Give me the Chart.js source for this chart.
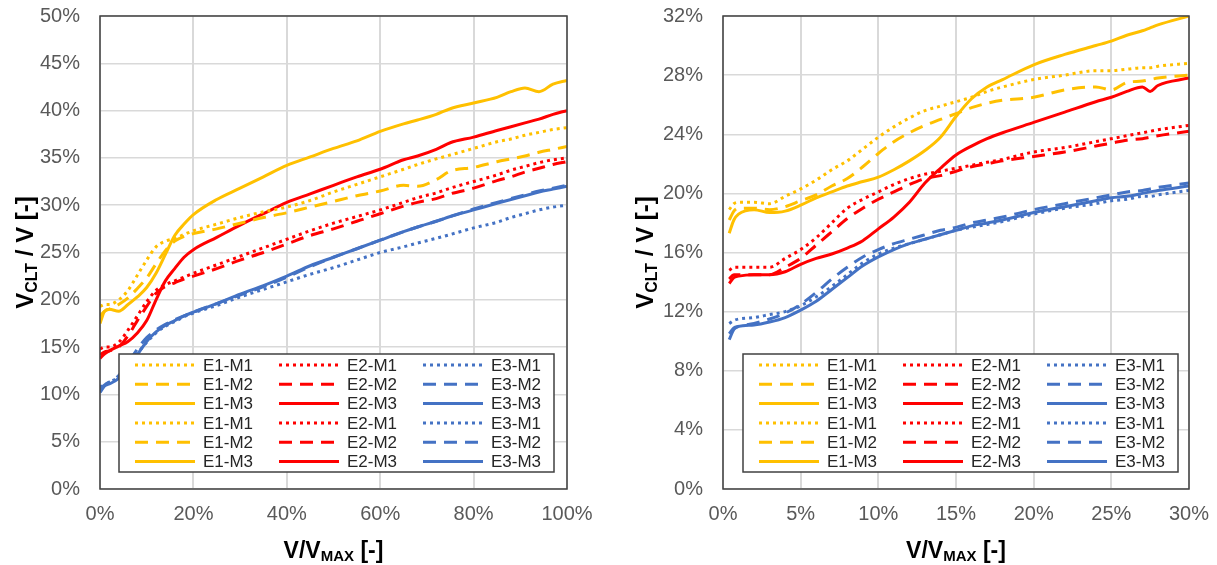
<!DOCTYPE html>
<html>
<head>
<meta charset="utf-8">
<script src="https://cdn.jsdelivr.net/npm/chart.js@4.4.0/dist/chart.umd.min.js"></script>
<style>
    html, body { margin: 0; padding: 0; background: #fff; }
    #wrap { position: relative; width: 1217px; height: 565px; overflow: hidden; }
    .panel { position: absolute; top: 0; }
    #left { left: 0; }
    #right { left: 608px; }
</style>
</head>
<body>
<div id="wrap">
    <div class="panel" id="left"><canvas id="chartLeft" width="608" height="565"></canvas></div>
    <div class="panel" id="right"><canvas id="chartRight" width="609" height="565"></canvas></div>
</div>
<script>
// DATA (values in %)
const seriesNames = ['E1-M1', 'E1-M2', 'E1-M3', 'E2-M1', 'E2-M2', 'E2-M3', 'E3-M1', 'E3-M2', 'E3-M3'];

// left panel: V/Vmax 0..100 %
const leftX = [0, 1, 2, 4, 6, 8, 10, 12, 14, 16, 18, 20, 25, 30, 35, 40, 45, 50, 55, 60, 65, 68, 72, 75, 80, 85, 88, 91, 94, 97, 100];
const leftE1M1 = [19.3, 19.5, 19.5, 20, 21, 22.6, 24.2, 25.6, 26.2, 26.5, 26.9, 27.3, 28, 28.7, 29.3, 29.8, 30.5, 31.4, 32.2, 33, 33.8, 34.3, 34.9, 35.3, 36, 36.7, 37, 37.4, 37.7, 38, 38.2];
const leftE1M2 = [18.3, 18.8, 19, 19.5, 20.2, 21.2, 22.3, 23.8, 25.2, 26.2, 26.7, 27, 27.5, 28.1, 28.7, 29.2, 29.8, 30.4, 31, 31.5, 32.1, 32.0, 32.7, 33.6, 34, 34.6, 34.9, 35.2, 35.6, 35.9, 36.2];
const leftE1M3 = [17.5, 18.8, 19, 18.8, 19.5, 20.3, 21.3, 22.8, 24.8, 26.8, 28, 29, 30.6, 31.8, 33, 34.2, 35.1, 36, 36.8, 37.8, 38.6, 39, 39.6, 40.2, 40.8, 41.4, 42, 42.4, 42, 42.8, 43.2];
const leftE2M1 = [14.8, 15, 15, 15.5, 16.8, 18.3, 19.8, 21, 21.6, 22, 22.4, 22.8, 23.7, 24.6, 25.5, 26.4, 27.3, 28.1, 28.8, 29.5, 30.3, 30.8, 31.3, 31.8, 32.5, 33.2, 33.7, 34.1, 34.5, 34.8, 35];
const leftE2M2 = [14.2, 14.5, 14.6, 15, 16.2, 17.8, 19.3, 20.7, 21.4, 21.8, 22.2, 22.5, 23.3, 24.2, 25, 25.9, 26.8, 27.5, 28.3, 29.1, 29.9, 30.3, 30.7, 31.2, 31.8, 32.6, 33, 33.5, 33.9, 34.3, 34.6];
const leftE2M3 = [13.8, 14.3, 14.6, 15.1, 15.6, 16.5, 17.8, 20, 22, 23.3, 24.5, 25.3, 26.6, 27.9, 29.1, 30.3, 31.2, 32.1, 33, 33.8, 34.8, 35.2, 35.9, 36.6, 37.2, 37.9, 38.3, 38.7, 39.1, 39.6, 40];
const leftE3M1 = [10.8, 11, 11.3, 11.8, 12.8, 14.3, 15.5, 16.5, 17.2, 17.7, 18.2, 18.6, 19.4, 20.3, 21.1, 21.9, 22.7, 23.4, 24.2, 25, 25.6, 26, 26.5, 26.9, 27.6, 28.2, 28.7, 29.1, 29.5, 29.8, 30];
const leftE3M2 = [10.5, 11, 11.3, 12, 13.3, 14.8, 16, 16.8, 17.4, 17.9, 18.3, 18.7, 19.6, 20.5, 21.4, 22.4, 23.5, 24.5, 25.4, 26.3, 27.2, 27.7, 28.3, 28.8, 29.6, 30.3, 30.7, 31.1, 31.5, 31.8, 32.1];
const leftE3M3 = [10.2, 10.9, 11.1, 11.7, 12.8, 14.2, 15.6, 16.6, 17.3, 17.8, 18.3, 18.7, 19.6, 20.6, 21.5, 22.5, 23.6, 24.5, 25.4, 26.3, 27.2, 27.7, 28.3, 28.8, 29.5, 30.2, 30.6, 31, 31.4, 31.7, 32];

// right panel: V/Vmax 0..30 %
const rightX = [0.4, 0.7, 1, 2, 3, 4, 5, 6, 7, 8, 9, 10, 11, 12, 13, 14, 15, 16, 17, 18, 20, 22, 24, 25, 26, 27, 27.5, 28, 30];
const rightE1M1 = [18.9, 19.3, 19.4, 19.4, 19.3, 19.8, 20.3, 20.9, 21.6, 22.2, 23, 23.8, 24.5, 25.1, 25.6, 25.9, 26.2, 26.5, 26.9, 27.2, 27.7, 28, 28.3, 28.3, 28.4, 28.5, 28.5, 28.6, 28.8];
const rightE1M2 = [18.2, 18.8, 19, 19, 18.9, 19.1, 19.5, 19.9, 20.5, 21, 21.8, 22.7, 23.5, 24.1, 24.6, 25, 25.4, 25.8, 26.1, 26.3, 26.5, 27, 27.2, 27.0, 27.5, 27.6, 27.7, 27.8, 28];
const rightE1M3 = [17.3, 18.2, 18.6, 18.9, 18.7, 18.8, 19.2, 19.7, 20.1, 20.5, 20.8, 21.1, 21.6, 22.2, 22.9, 23.8, 25.2, 26.4, 27.2, 27.7, 28.7, 29.4, 30, 30.3, 30.7, 31, 31.2, 31.4, 32];
const rightE2M1 = [14.8, 15, 15, 15, 15, 15.6, 16.2, 17, 18, 19, 19.6, 20.1, 20.6, 21, 21.3, 21.5, 21.7, 21.9, 22.1, 22.3, 22.8, 23.1, 23.5, 23.7, 23.9, 24.1, 24.2, 24.3, 24.6];
const rightE2M2 = [14.2, 14.5, 14.5, 14.5, 14.5, 15, 15.6, 16.5, 17.4, 18.3, 19, 19.6, 20.1, 20.6, 21, 21.2, 21.5, 21.8, 22, 22.2, 22.5, 22.8, 23.2, 23.4, 23.6, 23.7, 23.8, 23.9, 24.2];
const rightE2M3 = [13.9, 14.3, 14.4, 14.5, 14.5, 14.7, 15.2, 15.6, 15.9, 16.3, 16.8, 17.6, 18.4, 19.4, 20.7, 21.7, 22.6, 23.2, 23.7, 24.1, 24.8, 25.5, 26.2, 26.5, 26.9, 27.2, 26.9, 27.3, 27.8];
const rightE3M1 = [11.2, 11.4, 11.5, 11.6, 11.8, 12, 12.4, 13, 13.7, 14.5, 15.3, 15.9, 16.3, 16.6, 16.9, 17.2, 17.5, 17.7, 17.9, 18.1, 18.6, 19, 19.3, 19.5, 19.6, 19.8, 19.8, 19.9, 20.2];
const rightE3M2 = [10.5, 10.9, 11, 11.2, 11.5, 11.9, 12.5, 13.3, 14.2, 15, 15.7, 16.2, 16.6, 16.9, 17.2, 17.5, 17.7, 18, 18.2, 18.4, 18.9, 19.3, 19.7, 19.9, 20.1, 20.2, 20.3, 20.4, 20.7];
const rightE3M3 = [10.1, 10.8, 11, 11.1, 11.3, 11.6, 12.1, 12.7, 13.5, 14.3, 15.1, 15.7, 16.2, 16.6, 16.9, 17.2, 17.5, 17.8, 18, 18.2, 18.7, 19.1, 19.5, 19.7, 19.8, 20, 20.1, 20.2, 20.5];

// STYLES
const FONT = "'Liberation Sans', Arial, Helvetica, sans-serif";
const COLORS = { E1: '#FFC000', E2: '#FF0000', E3: '#4472C4' };
const DASHES = { M1: [3, 4], M2: [13, 8], M3: [] };

Chart.defaults.font.family = FONT;

function makeDatasets(xs, ysList) {
    return seriesNames.map((name, i) => {
        const [e, m] = name.split('-');
        return {
            label: name,
            data: ysList[i].map((y, j) => ({ x: xs[j], y: y })),
            showLine: true,
            borderColor: COLORS[e],
            backgroundColor: COLORS[e],
            borderWidth: 3,
            borderDash: DASHES[m],
            pointRadius: 0,
            pointHoverRadius: 0,
            cubicInterpolationMode: 'monotone',
            fill: false
        };
    });
}

// draws text made of parts (normal + subscript) centred at cx
function drawRich(ctx, parts, cx, baseY) {
    let total = 0;
    parts.forEach(p => {
        ctx.font = p.font;
        p.w = ctx.measureText(p.text).width;
        total += p.w;
    });
    let x = cx - total / 2;
    parts.forEach(p => {
        ctx.font = p.font;
        ctx.fillText(p.text, x, baseY + (p.dy || 0));
        x += p.w;
    });
}

const panelDecor = {
    id: 'panelDecor',
    afterDraw(chart, args, opts) {
        const ctx = chart.ctx;
        const a = chart.chartArea;
        ctx.save();

        // plot frame
        ctx.strokeStyle = '#404040';
        ctx.lineWidth = 1.5;
        ctx.setLineDash([]);
        ctx.strokeRect(a.left, a.top, a.right - a.left, a.bottom - a.top);

        // axis titles
        ctx.fillStyle = '#000';
        ctx.textAlign = 'left';
        ctx.textBaseline = 'alphabetic';
        drawRich(ctx, [
            { text: 'V/V', font: 'bold 23px ' + FONT },
            { text: 'MAX', font: 'bold 15px ' + FONT, dy: 3 },
            { text: ' [-]', font: 'bold 23px ' + FONT }
        ], (a.left + a.right) / 2, opts.xTitleY);

        ctx.save();
        ctx.translate(opts.yTitleX, (a.top + a.bottom) / 2);
        ctx.rotate(-Math.PI / 2);
        drawRich(ctx, [
            { text: 'V', font: 'bold 24px ' + FONT },
            { text: 'CLT', font: 'bold 16px ' + FONT, dy: 4 },
            { text: ' / V [-]', font: 'bold 24px ' + FONT }
        ], 0, 9);
        ctx.restore();

        // legend box
        const L = opts.legend;
        const bx = a.left + L.dx;
        const by = a.bottom - L.fromBottom;
        ctx.fillStyle = '#fff';
        ctx.fillRect(bx, by, L.w, L.h);
        ctx.strokeStyle = '#404040';
        ctx.lineWidth = 1.5;
        ctx.strokeRect(bx, by, L.w, L.h);

        const ds = chart.data.datasets;
        ctx.font = '17px ' + FONT;
        ctx.textBaseline = 'middle';
        for (let c = 0; c < 3; c++) {
            for (let r = 0; r < 6; r++) {
                const d = ds[c * 3 + (r % 3)];
                const lx = bx + L.lineStart + c * L.colGap;
                const ly = by + L.rowTop + r * L.rowGap;
                ctx.strokeStyle = d.borderColor;
                ctx.lineWidth = 3;
                ctx.setLineDash(d.borderDash);
                ctx.beginPath();
                ctx.moveTo(lx, ly);
                ctx.lineTo(lx + L.lineLen, ly);
                ctx.stroke();
                ctx.setLineDash([]);
                ctx.fillStyle = '#262626';
                ctx.fillText(d.label, lx + L.textOffset, ly + 1);
            }
        }
        ctx.restore();
    }
};

function makeChart(canvasId, xs, ysList, cfg) {
    const tickFont = { family: FONT, size: 20 };
    return new Chart(document.getElementById(canvasId), {
        type: 'scatter',
        data: { datasets: makeDatasets(xs, ysList) },
        plugins: [panelDecor],
        options: {
            responsive: false,
            animation: false,
            events: [],
            layout: { padding: { top: 16, right: cfg.padRight, left: 0, bottom: 0 } },
            scales: {
                x: {
                    type: 'linear',
                    min: 0,
                    max: cfg.xMax,
                    ticks: {
                        stepSize: cfg.xStep,
                        padding: 13,
                        color: '#595959',
                        font: tickFont,
                        maxRotation: 0,
                        callback: v => v + '%'
                    },
                    grid: { color: '#d9d9d9', lineWidth: 2, drawTicks: false },
                    border: { display: false },
                    afterFit: s => { s.height = 76; s.paddingLeft = 0; s.paddingRight = 0; }
                },
                y: {
                    min: 0,
                    max: cfg.yMax,
                    ticks: {
                        stepSize: cfg.yStep,
                        padding: 20,
                        color: '#595959',
                        font: tickFont,
                        callback: v => v + '%'
                    },
                    grid: { color: '#d9d9d9', lineWidth: 1.5, drawTicks: false },
                    border: { display: false },
                    afterFit: s => { s.width = cfg.yWidth; s.paddingTop = 0; s.paddingBottom = 0; }
                }
            },
            plugins: {
                legend: { display: false },
                tooltip: { enabled: false },
                panelDecor: {
                    xTitleY: 558,
                    yTitleX: cfg.yTitleX,
                    legend: {
                        dx: cfg.legendDx, fromBottom: 135, w: 435, h: 118,
                        lineStart: 16, colGap: 144, lineLen: 60, textOffset: 68,
                        rowTop: 11, rowGap: 19.3
                    }
                }
            }
        }
    });
}

// CHARTS
makeChart('chartLeft', leftX,
    [leftE1M1, leftE1M2, leftE1M3, leftE2M1, leftE2M2, leftE2M3, leftE3M1, leftE3M2, leftE3M3],
    { xMax: 100, xStep: 20, yMax: 50, yStep: 5, yWidth: 100, padRight: 41, yTitleX: 24, legendDx: 19 });

makeChart('chartRight', rightX,
    [rightE1M1, rightE1M2, rightE1M3, rightE2M1, rightE2M2, rightE2M3, rightE3M1, rightE3M2, rightE3M3],
    { xMax: 30, xStep: 5, yMax: 32, yStep: 4, yWidth: 115, padRight: 28, yTitleX: 36, legendDx: 20 });
</script>
</body>
</html>
